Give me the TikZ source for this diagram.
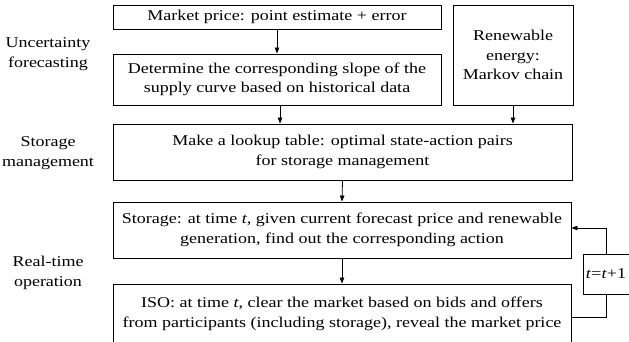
\documentclass[tikz,border=0pt]{standalone}
\usepackage{fontspec}
\setmainfont{Liberation Serif}[FakeStretch=1.2]
\usetikzlibrary{arrows.meta}
\begin{document}
\begin{tikzpicture}[x=1pt,y=-1pt,
  every node/.style={font=\fontsize{15}{19.5}\selectfont, align=center},
  blk/.style={draw, line width=0.9pt, inner sep=0pt},
  lbl/.style={inner sep=0pt},
  arr/.style={line width=0.8pt, -{Triangle[length=6pt,width=4.5pt]}},
  ln/.style={line width=0.8pt}]
\useasboundingbox (0,0) rectangle (629,341);
\clip (0,0) rectangle (629,341);
\node[blk, minimum width=328pt, minimum height=24pt] (mp) at (277,17) {Market price: point estimate + error};
\node[blk, minimum width=328pt, minimum height=51pt] (det) at (277,79.5) {Determine the corresponding slope of the\\supply curve based on historical data};
\node[blk, minimum width=120pt, minimum height=100pt] (ren) at (513,55) {Renewable\\energy:\\Markov chain};
\node[blk, minimum width=459pt, minimum height=56pt] (lut) at (342.5,152) {Make a lookup table: optimal state-action pairs\\for storage management};
\node[blk, minimum width=458pt, minimum height=56pt] (sto) at (342,230) {Storage: at time \textit{t}, given current forecast price and renewable\\generation, find out the corresponding action};
\node[blk, minimum width=458pt, minimum height=60pt] (iso) at (342,314) {ISO: at time \textit{t}, clear the market based on bids and offers\\from participants (including storage), reveal the market price};
\node[blk, minimum width=46pt, minimum height=40pt] (tb) at (606,274) {\textit{t}=\textit{t}+1};
\node[lbl] (l1) at (48,54) {Uncertainty\\forecasting};
\node[lbl] (l2) at (48,153) {Storage\\management};
\node[lbl] (l3) at (48,273) {Real-time\\operation};
\draw[arr] (mp.south) -- (det.north);
\draw[arr] ([xshift=3pt]det.south) -- ([xshift=3pt]det.south |- lut.north);
\draw[arr] (ren.south) -- (ren.south |- lut.north);
\draw[arr] (lut.south) -- (sto.north);
\draw[arr] (sto.south) -- (iso.north);
\draw[ln] ([yshift=-3pt]iso.east) -| (tb.south);
\draw[arr] (tb.north) |- ([yshift=2pt]sto.east);
\end{tikzpicture}
\end{document}
